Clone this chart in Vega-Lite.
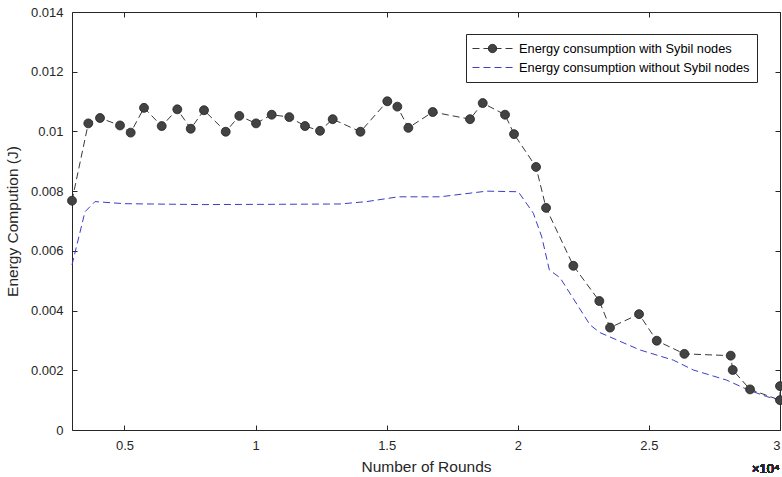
{
  "$schema": "https://vega.github.io/schema/vega-lite/v6.json",
  "width": 708,
  "height": 418,
  "autosize": {"type": "none"},
  "padding": {"left": 72, "top": 12, "right": 2, "bottom": 47},
  "background": "white",
  "config": {
    "view": {"stroke": "#262626", "strokeWidth": 1},
    "font": "Liberation Sans",
    "axis": {
      "grid": false,
      "domain": false,
      "domainColor": "#262626",
      "tickColor": "#262626",
      "tickWidth": 1,
      "tickSize": 5,
      "offset": -5,
      "labelColor": "#262626",
      "titleColor": "#262626",
      "labelFont": "Liberation Sans",
      "titleFont": "Liberation Sans",
      "labelFontSize": 13,
      "titleFontSize": 15.5,
      "titleFontWeight": "normal"
    }
  },
  "data": {
    "values": [
      {"series": "Energy consumption with Sybil nodes", "idx": 1, "rounds": 3000, "energy": 0.00768},
      {"series": "Energy consumption with Sybil nodes", "idx": 2, "rounds": 3622, "energy": 0.01027},
      {"series": "Energy consumption with Sybil nodes", "idx": 3, "rounds": 4068, "energy": 0.01045},
      {"series": "Energy consumption with Sybil nodes", "idx": 4, "rounds": 4831, "energy": 0.0102},
      {"series": "Energy consumption with Sybil nodes", "idx": 5, "rounds": 5238, "energy": 0.00996},
      {"series": "Energy consumption with Sybil nodes", "idx": 6, "rounds": 5746, "energy": 0.01079},
      {"series": "Energy consumption with Sybil nodes", "idx": 7, "rounds": 6421, "energy": 0.01018},
      {"series": "Energy consumption with Sybil nodes", "idx": 8, "rounds": 7016, "energy": 0.01074},
      {"series": "Energy consumption with Sybil nodes", "idx": 9, "rounds": 7527, "energy": 0.01009},
      {"series": "Energy consumption with Sybil nodes", "idx": 10, "rounds": 8034, "energy": 0.01071},
      {"series": "Energy consumption with Sybil nodes", "idx": 11, "rounds": 8862, "energy": 0.00999},
      {"series": "Energy consumption with Sybil nodes", "idx": 12, "rounds": 9381, "energy": 0.01052},
      {"series": "Energy consumption with Sybil nodes", "idx": 13, "rounds": 10018, "energy": 0.01027},
      {"series": "Energy consumption with Sybil nodes", "idx": 14, "rounds": 10616, "energy": 0.01056},
      {"series": "Energy consumption with Sybil nodes", "idx": 15, "rounds": 11287, "energy": 0.01048},
      {"series": "Energy consumption with Sybil nodes", "idx": 16, "rounds": 11886, "energy": 0.01018},
      {"series": "Energy consumption with Sybil nodes", "idx": 17, "rounds": 12458, "energy": 0.01002},
      {"series": "Energy consumption with Sybil nodes", "idx": 18, "rounds": 12942, "energy": 0.01041},
      {"series": "Energy consumption with Sybil nodes", "idx": 19, "rounds": 14000, "energy": 0.00999},
      {"series": "Energy consumption with Sybil nodes", "idx": 20, "rounds": 15025, "energy": 0.01101},
      {"series": "Energy consumption with Sybil nodes", "idx": 21, "rounds": 15407, "energy": 0.01083},
      {"series": "Energy consumption with Sybil nodes", "idx": 22, "rounds": 15827, "energy": 0.01012},
      {"series": "Energy consumption with Sybil nodes", "idx": 23, "rounds": 16757, "energy": 0.01065},
      {"series": "Energy consumption with Sybil nodes", "idx": 24, "rounds": 18179, "energy": 0.01041},
      {"series": "Energy consumption with Sybil nodes", "idx": 25, "rounds": 18663, "energy": 0.01095},
      {"series": "Energy consumption with Sybil nodes", "idx": 26, "rounds": 19514, "energy": 0.01056},
      {"series": "Energy consumption with Sybil nodes", "idx": 27, "rounds": 19857, "energy": 0.00991},
      {"series": "Energy consumption with Sybil nodes", "idx": 28, "rounds": 20696, "energy": 0.00881},
      {"series": "Energy consumption with Sybil nodes", "idx": 29, "rounds": 21078, "energy": 0.00744},
      {"series": "Energy consumption with Sybil nodes", "idx": 30, "rounds": 22119, "energy": 0.0055},
      {"series": "Energy consumption with Sybil nodes", "idx": 31, "rounds": 23110, "energy": 0.00432},
      {"series": "Energy consumption with Sybil nodes", "idx": 32, "rounds": 23518, "energy": 0.00343},
      {"series": "Energy consumption with Sybil nodes", "idx": 33, "rounds": 24624, "energy": 0.00388},
      {"series": "Energy consumption with Sybil nodes", "idx": 34, "rounds": 25300, "energy": 0.00299},
      {"series": "Energy consumption with Sybil nodes", "idx": 35, "rounds": 26353, "energy": 0.00255},
      {"series": "Energy consumption with Sybil nodes", "idx": 36, "rounds": 28121, "energy": 0.00249},
      {"series": "Energy consumption with Sybil nodes", "idx": 37, "rounds": 28197, "energy": 0.00201},
      {"series": "Energy consumption with Sybil nodes", "idx": 38, "rounds": 28858, "energy": 0.00136},
      {"series": "Energy consumption with Sybil nodes", "idx": 39, "rounds": 30000, "energy": 0.001},
      {"series": "Energy consumption with Sybil nodes", "idx": 40, "rounds": 30000, "energy": 0.00147},
      {"series": "Energy consumption without Sybil nodes", "idx": 1, "rounds": 3000, "energy": 0.00553},
      {"series": "Energy consumption without Sybil nodes", "idx": 2, "rounds": 3496, "energy": 0.00731},
      {"series": "Energy consumption without Sybil nodes", "idx": 3, "rounds": 3877, "energy": 0.00765},
      {"series": "Energy consumption without Sybil nodes", "idx": 4, "rounds": 5000, "energy": 0.00758},
      {"series": "Energy consumption without Sybil nodes", "idx": 5, "rounds": 8000, "energy": 0.00755},
      {"series": "Energy consumption without Sybil nodes", "idx": 6, "rounds": 11000, "energy": 0.00756},
      {"series": "Energy consumption without Sybil nodes", "idx": 7, "rounds": 13221, "energy": 0.00757},
      {"series": "Energy consumption without Sybil nodes", "idx": 8, "rounds": 14239, "energy": 0.00765},
      {"series": "Energy consumption without Sybil nodes", "idx": 9, "rounds": 15445, "energy": 0.00781},
      {"series": "Energy consumption without Sybil nodes", "idx": 10, "rounds": 17035, "energy": 0.00781},
      {"series": "Energy consumption without Sybil nodes", "idx": 11, "rounds": 18817, "energy": 0.008},
      {"series": "Energy consumption without Sybil nodes", "idx": 12, "rounds": 20021, "energy": 0.00798},
      {"series": "Energy consumption without Sybil nodes", "idx": 13, "rounds": 20594, "energy": 0.00726},
      {"series": "Energy consumption without Sybil nodes", "idx": 14, "rounds": 20914, "energy": 0.00647},
      {"series": "Energy consumption without Sybil nodes", "idx": 15, "rounds": 21204, "energy": 0.00536},
      {"series": "Energy consumption without Sybil nodes", "idx": 16, "rounds": 21612, "energy": 0.0051},
      {"series": "Energy consumption without Sybil nodes", "idx": 17, "rounds": 22756, "energy": 0.00352},
      {"series": "Energy consumption without Sybil nodes", "idx": 18, "rounds": 23137, "energy": 0.00326},
      {"series": "Energy consumption without Sybil nodes", "idx": 19, "rounds": 24663, "energy": 0.00268},
      {"series": "Energy consumption without Sybil nodes", "idx": 20, "rounds": 25932, "energy": 0.00234},
      {"series": "Energy consumption without Sybil nodes", "idx": 21, "rounds": 26696, "energy": 0.00201},
      {"series": "Energy consumption without Sybil nodes", "idx": 22, "rounds": 27968, "energy": 0.00167},
      {"series": "Energy consumption without Sybil nodes", "idx": 23, "rounds": 28793, "energy": 0.00134},
      {"series": "Energy consumption without Sybil nodes", "idx": 24, "rounds": 29493, "energy": 0.00112},
      {"series": "Energy consumption without Sybil nodes", "idx": 25, "rounds": 30000, "energy": 0.001}
    ]
  },
  "layer": [
    {
      "mark": {"type": "line", "strokeDash": [7, 4], "strokeWidth": 1},
      "encoding": {
        "x": {
          "field": "rounds",
          "type": "quantitative",
          "scale": {"domain": [3000, 30000], "nice": false, "zero": false},
          "axis": {
            "orient": "bottom",
            "title": "Number of Rounds",
            "values": [5000, 10000, 15000, 20000, 25000, 30000],
            "labelExpr": "format(datum.value / 10000, '~g')",
            "labelPadding": 9,
            "titlePadding": 7
          }
        },
        "y": {
          "field": "energy",
          "type": "quantitative",
          "scale": {"domain": [0, 0.014], "nice": false},
          "axis": {
            "orient": "left",
            "title": "Energy Compution (J)",
            "values": [0, 0.002, 0.004, 0.006, 0.008, 0.01, 0.012, 0.014],
            "format": "~g",
            "labelPadding": 9,
            "titlePadding": 10
          }
        },
        "color": {
          "field": "series",
          "type": "nominal",
          "scale": {
            "domain": ["Energy consumption with Sybil nodes", "Energy consumption without Sybil nodes"],
            "range": ["#383838", "#3c3cc8"]
          },
          "legend": {
            "orient": "none",
            "legendX": 394,
            "legendY": 22,
            "title": null,
            "padding": 7,
            "strokeColor": "#262626",
            "fillColor": "white",
            "labelFont": "Liberation Sans",
            "labelFontSize": 12.8,
            "labelColor": "#000000",
            "labelLimit": 400,
            "symbolSize": 196,
            "symbolOffset": 12,
            "labelOffset": 19,
            "rowPadding": 4,
            "encode": {
              "symbols": {
                "update": {
                  "shape": {"signal": "datum.value === 'Energy consumption with Sybil nodes' ? 'M-2.86,0H-1.86M-1.29,0H-0.29M0.29,0H1.29M1.86,0H2.86M-0.6,0A0.6,0.6,0,1,0,0.6,0A0.6,0.6,0,1,0,-0.6,0Z' : 'M-2.86,0H-1.86M-1.29,0H-0.29M0.29,0H1.29M1.86,0H2.86'"},
                  "fill": {"value": "#434343"},
                  "fillOpacity": {"value": 1},
                  "strokeDash": {"value": []},
                  "strokeWidth": {"value": 1}
                }
              }
            }
          }
        },
        "order": {"field": "idx", "type": "quantitative"}
      }
    },
    {
      "transform": [{"filter": "datum.series === 'Energy consumption with Sybil nodes'"}],
      "mark": {"type": "point", "shape": "circle", "filled": true, "size": 80, "fill": "#434343", "stroke": "#222222", "strokeWidth": 0.8, "opacity": 1},
      "encoding": {
        "x": {
          "field": "rounds",
          "type": "quantitative",
          "axis": {
            "orient": "top",
            "title": null,
            "labels": false,
            "values": [5000, 10000, 15000, 20000, 25000, 30000]
          }
        },
        "y": {
          "field": "energy",
          "type": "quantitative",
          "axis": {
            "orient": "right",
            "title": null,
            "labels": false,
            "values": [0, 0.002, 0.004, 0.006, 0.008, 0.01, 0.012, 0.014]
          }
        }
      }
    },
    {
      "mark": {"type": "text", "text": "×10⁴", "align": "left", "baseline": "middle", "dx": -28, "dy": 39, "fontSize": 13, "font": "Liberation Sans", "fontWeight": "normal", "color": "#262626"},
      "encoding": {
        "x": {"datum": 30000, "type": "quantitative", "axis": null},
        "y": {"datum": 0, "type": "quantitative", "axis": null}
      }
    }
  ],
  "resolve": {"axis": {"x": "independent", "y": "independent"}}
}
